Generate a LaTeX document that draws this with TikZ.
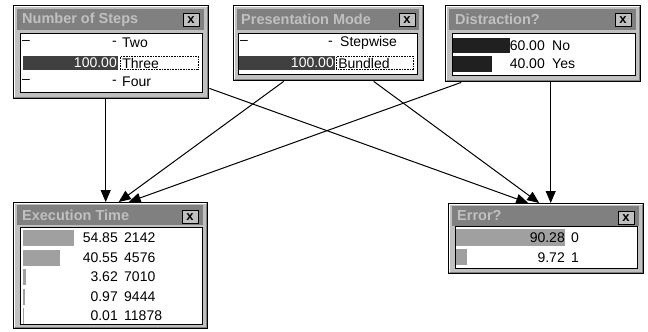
\documentclass[tikz,border=0pt]{standalone}
\usepackage{fontspec}
\setmainfont{Liberation Sans}
\usetikzlibrary{positioning,arrows.meta}

\definecolor{winface}{HTML}{C0C0C0}
\definecolor{wincaption}{HTML}{808080}
\definecolor{bardark}{HTML}{404040}
\definecolor{barblack}{HTML}{202020}
\definecolor{bargray}{HTML}{A0A0A0}

\begin{document}
\begin{tikzpicture}[x=1pt, y=-1pt, font=\fontsize{14}{14}\selectfont,
                    link/.style     = {-{Triangle[length=12pt,width=10pt]},
                                       line width=1pt},
                    win/.style      = {rectangle,
                                       fill = winface,
                                       draw = black,
                                       line width = 1.4pt,
                                       anchor = north west,
                                       inner sep = 0pt},
                    caption/.style  = {rectangle,
                                       fill = wincaption,
                                       anchor = north west,
                                       inner sep = 0pt},
                    heading/.style  = {anchor = west,
                                       inner sep = 0pt,
                                       text = winface,
                                       font = \bfseries\fontsize{14.5}{14.5}\selectfont},
                    closebox/.style = {rectangle,
                                       fill = winface,
                                       draw = black,
                                       line width = 0.8pt,
                                       minimum width = 16pt,
                                       minimum height = 13pt,
                                       inner sep = 0pt,
                                       anchor = north east,
                                       font = \bfseries\fontsize{13}{13}\selectfont},
                    panel/.style    = {rectangle,
                                       fill = white,
                                       draw = black,
                                       line width = 1.2pt,
                                       anchor = north west,
                                       inner sep = 0pt},
                    prob/.style     = {anchor = east, inner sep = 0pt},
                    lbl/.style      = {anchor = west, inner sep = 0pt},
                    picked/.style   = {anchor = west,
                                       draw,
                                       densely dotted,
                                       line width = 0.6pt,
                                       inner xsep = 2pt,
                                       inner ysep = 1.5pt,
                                       align = left}]

\useasboundingbox (0,0) rectangle (648,332);
\fill[white] (0,0) rectangle (648,332);

% Number of Steps
\node[win, minimum width=195pt, minimum height=93pt] (steps) at (13,5) {};
\node[caption, minimum width=187pt, minimum height=21pt] (steps-cap) at (17,9) {};
\node[heading] (steps-title) at (22,19.5) {Number of Steps};
\node[closebox] (steps-x) at ([xshift=-10pt,yshift=-8pt]steps.north east) {x};
\node[panel, minimum width=182pt, minimum height=59pt] (steps-body) at (20,33) {};
\node[lbl] (steps-d1) at (22,42) {–};
\node[prob] (steps-p1) at (117,43) {-};
\node[lbl] (steps-s1) at (122,43) {Two};
\fill[bardark] (23,56) rectangle (118,70);
\node[prob, text=white] (steps-p2) at (117,63) {100.00};
\node[picked, text width=74pt] (steps-s2) at (120,63) {Three};
\node[lbl] (steps-d3) at (22,81) {–};
\node[prob] (steps-p3) at (117,82) {-};
\node[lbl] (steps-s3) at (122,82) {Four};

% Presentation Mode
\node[win, minimum width=190pt, minimum height=75pt] (mode) at (233,5) {};
\node[caption, minimum width=182pt, minimum height=21pt] (mode-cap) at (237,9) {};
\node[heading] (mode-title) at (241,19.5) {Presentation Mode};
\node[closebox] (mode-x) at ([xshift=-9pt,yshift=-8pt]mode.north east) {x};
\node[panel, minimum width=179pt, minimum height=41pt] (mode-body) at (238,33) {};
\node[lbl] (mode-d1) at (240,42) {–};
\node[prob] (mode-p1) at (333,43) {-};
\node[lbl] (mode-s1) at (340,43) {Stepwise};
\fill[bardark] (239,56) rectangle (335,70);
\node[prob, text=white] (mode-p2) at (334,63) {100.00};
\node[picked, text width=73pt] (mode-s2) at (336,63) {Bundled};

% Distraction?
\node[win, minimum width=195pt, minimum height=76pt] (distr) at (445,5) {};
\node[caption, minimum width=187pt, minimum height=21pt] (distr-cap) at (449,9) {};
\node[heading] (distr-title) at (455,19.5) {Distraction?};
\node[closebox] (distr-x) at ([xshift=-10pt,yshift=-8pt]distr.north east) {x};
\node[panel, minimum width=183pt, minimum height=42pt] (distr-body) at (452,33) {};
\fill[barblack] (453,38) rectangle (510,53);
\fill[barblack] (453,56) rectangle (492,72);
\node[prob] (distr-p1) at (545,45.5) {60.00};
\node[lbl] (distr-s1) at (552,45.5) {No};
\node[prob] (distr-p2) at (545,64) {40.00};
\node[lbl] (distr-s2) at (552,64) {Yes};

% Execution Time
\node[win, minimum width=194pt, minimum height=126pt] (exec) at (13,202) {};
\node[caption, minimum width=186pt, minimum height=20pt] (exec-cap) at (17,205) {};
\node[heading] (exec-title) at (22,215) {Execution Time};
\node[closebox] (exec-x) at ([xshift=-10pt,yshift=-8pt]exec.north east) {x};
\node[panel, minimum width=182pt, minimum height=97pt] (exec-body) at (20,227) {};
\foreach \p/\v/\w [count=\i] in {54.85/2142/51, 40.55/4576/37, 3.62/7010/3,
                                 0.97/9444/1.5, 0.01/11878/1} {
  \fill[bargray] (23,{238+(\i-1)*19.5-8}) rectangle ++(\w,16);
  \node[prob] (exec-p\i) at (118,{238+(\i-1)*19.5}) {\p};
  \node[lbl] (exec-s\i) at (124,{238+(\i-1)*19.5}) {\v};
}

% Error?
\node[win, minimum width=195pt, minimum height=70pt] (error) at (448,203) {};
\node[caption, minimum width=187pt, minimum height=20pt] (error-cap) at (452,206) {};
\node[heading] (error-title) at (457,216) {Error?};
\node[closebox] (error-x) at ([xshift=-10pt,yshift=-8pt]error.north east) {x};
\node[panel, minimum width=182pt, minimum height=42pt] (error-body) at (455,226) {};
\fill[bargray] (456,229) rectangle (565,246);
\fill[bargray] (456,249) rectangle (467,265);
\node[prob] (error-p1) at (565,238) {90.28};
\node[lbl] (error-s1) at (571,238) {0};
\node[prob] (error-p2) at (565,258) {9.72};
\node[lbl] (error-s2) at (571,258) {1};

% raised window edges
\foreach \w in {steps,mode,distr,exec,error} {
  \draw[white, line width=1pt]
    ([xshift=1.5pt,yshift=2.5pt]\w.south west) |- ([xshift=-2.5pt,yshift=-1.5pt]\w.north east);
  \draw[wincaption, line width=1pt]
    ([xshift=1.5pt,yshift=1.5pt]\w.south west) -| ([xshift=-1.5pt,yshift=-1.5pt]\w.north east);
}

% links
\draw[link] ([xshift=-5.5pt]steps.south) -- ([xshift=-5pt]exec.north);
\draw[link] ([yshift=11pt]steps.south east) -- ([xshift=-18pt]error.north);
\draw[link] ([xshift=-45pt]mode.south) -- ([xshift=8pt]exec.north);
\draw[link] ([xshift=45pt]mode.south) -- ([xshift=-7pt]error.north);
\draw[link] ([xshift=-82pt]distr.south) -- ([xshift=18pt]exec.north);
\draw[link] ([xshift=7.5pt]distr.south) -- ([xshift=4.5pt]error.north);

\end{tikzpicture}
\end{document}
